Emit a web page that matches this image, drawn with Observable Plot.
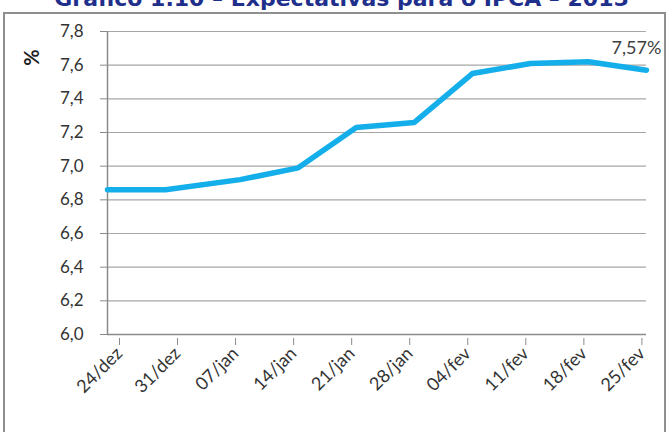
<!DOCTYPE html>
<html>
<head>
<meta charset="utf-8">
<script src="https://cdn.jsdelivr.net/npm/d3@7"></script>
<script src="https://cdn.jsdelivr.net/npm/@observablehq/plot@0.6"></script>
<style>
  html, body { margin: 0; padding: 0; background: #fff; }
  #wrap { position: relative; width: 669px; height: 432px; overflow: hidden; }
  .title { position: relative; height: 10px; overflow: hidden; z-index: 2; }
  .title span { position: absolute; left: 0; width: 669px; top: -14px; padding-left: 14px; box-sizing: border-box;
    text-align: center; font-family: "DejaVu Sans", sans-serif; font-weight: bold; font-size: 22px; line-height: 26px; color: #1f2f8c; white-space: nowrap; }
  .frame { position: absolute; left: 3px; top: 12px; width: 659px; height: 440px; border: 2px solid #8f8f8f; z-index: 0; }
  #chart { position: relative; z-index: 1; }
  g[aria-label="shadow"] { filter: blur(2px); }
</style>
</head>
<body>
<div id="wrap">
  <div class="title"><span>Gráfico 1.10 – Expectativas para o IPCA – 2015</span></div>
  <div class="frame"></div>
  <div id="chart"></div>
</div>
<script>
// Survey dates and IPCA 2015 expectations (%)
const dates = ["2014-12-24", "2014-12-31", "2015-01-09", "2015-01-16", "2015-01-23", "2015-01-30", "2015-02-06", "2015-02-13", "2015-02-20", "2015-02-27"];
const values = [6.86, 6.86, 6.92, 6.99, 7.23, 7.26, 7.55, 7.61, 7.62, 7.57];
// Axis ticks
const tickDates = ["2014-12-24", "2014-12-31", "2015-01-07", "2015-01-14", "2015-01-21", "2015-01-28", "2015-02-04", "2015-02-11", "2015-02-18", "2015-02-25"];
const tickLabels = ["24/dez", "31/dez", "07/jan", "14/jan", "21/jan", "28/jan", "04/fev", "11/fev", "18/fev", "25/fev"];
const yTicks = [6.0, 6.2, 6.4, 6.6, 6.8, 7.0, 7.2, 7.4, 7.6, 7.8];
const xStart = "2014-12-24", xEnd = "2015-02-27";

const data = dates.map((d, i) => ({date: new Date(d), value: values[i]}));
const tickDateObjs = tickDates.map(d => new Date(d));
const labelOf = new Map(tickDateObjs.map((d, i) => [+d, tickLabels[i]]));
const fmt = v => v.toFixed(1).replace(".", ",");
const last = data[data.length - 1];

const chart = Plot.plot({
  width: 669,
  height: 422,
  marginLeft: 107,
  marginRight: 23,
  marginTop: 21,
  marginBottom: 98,
  style: {fontFamily: "Lato, sans-serif", fontSize: "17px", color: "#333", background: "transparent", overflow: "visible"},
  x: {type: "utc", domain: [new Date(xStart), new Date(xEnd)]},
  y: {domain: [6, 7.8]},
  marks: [
    Plot.gridY(yTicks, {stroke: "#a6a6a6", strokeOpacity: 1, strokeWidth: 1.2}),
    Plot.axisY(yTicks, {tickFormat: fmt, tickSize: 7, tickPadding: 17, stroke: "#8a8a8a", fill: "#333", fontSize: 17, label: null}),
    Plot.ruleX([new Date(xStart)], {stroke: "#8a8a8a", strokeWidth: 1.5}),
    Plot.ruleY([6], {stroke: "#8a8a8a", strokeWidth: 1.5}),
    Plot.axisX(tickDateObjs, {tickFormat: d => labelOf.get(+d), tickRotate: -45, tickSize: 7, tickPadding: 5, dx: 12, dy: 4, stroke: "#8a8a8a", fill: "#333", fontSize: 18, label: null}),
    Plot.line(data, {x: "date", y: "value", stroke: "#000", strokeOpacity: 0.3, strokeWidth: 6, dy: 4, dx: 1, ariaLabel: "shadow"}),
    Plot.line(data, {x: "date", y: "value", stroke: "#14aeea", strokeWidth: 5.5, strokeLinejoin: "round", strokeLinecap: "round"}),
    Plot.text([last], {x: "date", y: "value", text: d => d.value.toFixed(2).replace(".", ",") + "%", dx: -10, dy: -22, fill: "#404040", fontSize: 18}),
    Plot.text(["%"], {frameAnchor: "top-left", text: d => d, rotate: -90, dx: -75, dy: 26, textAnchor: "middle", lineAnchor: "middle", fontWeight: "bold", fontSize: 20, fill: "#222"})
  ]
});
document.getElementById("chart").appendChild(chart);
</script>
</body>
</html>
